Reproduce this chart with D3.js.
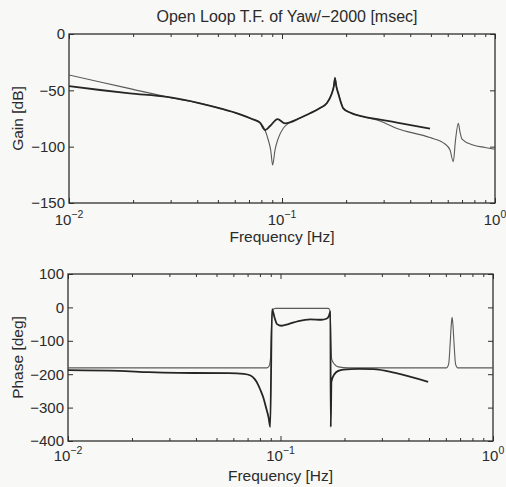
<!DOCTYPE html>
<html>
<head>
<meta charset="utf-8">
<script src="https://cdn.jsdelivr.net/npm/d3@7"></script>
<style>
  html, body { margin: 0; padding: 0; background: #f8f8f6; }
  svg { display: block; }
  text { font-family: "Liberation Sans", Arial, Helvetica, sans-serif; fill: #2b2b2b; }
</style>
</head>
<body>
<svg id="chart" width="506" height="487"></svg>
<script>
// Open-loop transfer function of yaw: model (thin) and measured (thick) curves
const freqTicks = [0.01, 0.1, 1];
const gainTicks = [0, -50, -100, -150];
const phaseTicks = [100, 0, -100, -200, -300, -400];

const modelGainHz = [0.0100, 0.0140, 0.0193, 0.0289, 0.0412, 0.0512, 0.0635, 0.0723, 0.0788, 0.0832,
  0.0862, 0.0885, 0.0904, 0.0927, 0.0960, 0.1014, 0.1071, 0.1215, 0.1354, 0.1508, 0.1622, 0.1712,
  0.1751, 0.1773, 0.1799, 0.1842, 0.1940, 0.2085, 0.2408, 0.2884, 0.3466, 0.4953, 0.5826, 0.6150,
  0.6370, 0.6526, 0.6725, 0.6850, 0.6999, 0.7884, 0.8978, 1.0000];
const modelGainDb = [-36.4, -42.6, -48.5, -55.9, -61.5, -66.0, -71.3, -75.4, -78.7, -85.2,
  -94.1, -103.0, -116.3, -103.0, -92.6, -83.7, -79.3, -74.6, -70.4, -65.7, -61.5, -52.7,
  -46.0, -38.5, -46.0, -53.0, -66.0, -69.7, -73.4, -77.2, -83.9, -91.9, -97.6, -103.0,
  -113.3, -94.0, -79.3, -87.0, -93.2, -98.5, -100.7, -102.3];

const measGainHz = [0.0100, 0.0140, 0.0193, 0.0289, 0.0412, 0.0512, 0.0635, 0.0723, 0.0788, 0.0832,
  0.0879, 0.0953, 0.1033, 0.1091, 0.1215, 0.1354, 0.1508, 0.1622, 0.1712, 0.1751, 0.1773, 0.1799,
  0.1842, 0.1940, 0.2085, 0.2408, 0.2884, 0.3466, 0.4953];
const measGainDb = [-46.2, -49.7, -52.7, -55.9, -61.5, -66.0, -71.3, -75.4, -78.7, -85.2,
  -81.7, -75.5, -79.3, -78.5, -74.6, -70.4, -65.7, -61.5, -53.0, -46.5, -39.5, -46.5,
  -53.5, -66.0, -69.7, -73.4, -75.9, -78.6, -83.9];

const modelPhaseHz = [0.0100, 0.0862, 0.0883, 0.0898, 0.0907, 0.0917, 0.0947, 0.1680, 0.1713, 0.1726,
  0.1741, 0.1793, 0.1872, 0.2085, 0.6049, 0.6184, 0.6284, 0.6366, 0.6420, 0.6475, 0.6559, 0.6666,
  0.6814, 1.0000];
const modelPhaseDeg = [-181, -181, -176, -150, -60, -8, -3, -3, -12, -100,
  -155, -170, -178, -181, -181, -170, -110, -50, -30, -50, -110, -170,
  -181, -181];

const measPhaseHz = [0.0100, 0.01736, 0.02401, 0.0332, 0.05701, 0.06706, 0.0723, 0.07546, 0.07798,
  0.08054, 0.08321, 0.08548, 0.0879, 0.08946, 0.09123, 0.09371, 0.0963, 0.1011, 0.1091, 0.1215,
  0.1383, 0.1558, 0.1644, 0.1689, 0.1717, 0.1724, 0.1736, 0.1793, 0.1872, 0.1976, 0.2324, 0.2732,
  0.3466, 0.4953];
const measPhaseDeg = [-188, -190, -194, -196, -197, -199, -204, -214, -228,
  -248, -272, -300, -330, -358, -5, -30, -50, -55, -50, -41,
  -36, -37, -34, -26, -12, -358, -222, -200, -190, -186, -184, -185,
  -196, -223];

const svg = d3.select("#chart");
const minorTicks = [];
for (const dec of [0.01, 0.1]) for (let m = 2; m <= 9; m++) minorTicks.push(+(dec * m).toPrecision(3));

const ink = "#2e2e2e";

function panel(cfg) {
  const x = d3.scaleLog().domain([0.01, 1]).range([cfg.left, cfg.right]);
  const y = d3.scaleLinear().domain(cfg.yDomain).range([cfg.bottom, cfg.top]);
  const g = svg.append("g");

  const clipId = "clip" + cfg.name;
  g.append("clipPath").attr("id", clipId).append("rect")
    .attr("x", cfg.left).attr("y", cfg.top)
    .attr("width", cfg.right - cfg.left).attr("height", cfg.bottom - cfg.top);

  // inward-pointing major and minor ticks on all four sides
  const axes = [
    [d3.axisBottom(x).tickValues(freqTicks).tickSize(-5), `translate(0,${cfg.bottom})`],
    [d3.axisTop(x).tickValues(freqTicks).tickSize(-5), `translate(0,${cfg.top})`],
    [d3.axisBottom(x).tickValues(minorTicks).tickSize(-3), `translate(0,${cfg.bottom})`],
    [d3.axisTop(x).tickValues(minorTicks).tickSize(-3), `translate(0,${cfg.top})`],
    [d3.axisRight(y).tickValues(cfg.yTicks).tickSize(-5), `translate(${cfg.right},0)`]
  ];
  for (const [ax, tr] of axes) {
    const a = g.append("g").attr("transform", tr).call(ax.tickFormat(""));
    a.select(".domain").remove();
    a.selectAll("line").attr("stroke", ink).attr("stroke-width", 1);
  }
  const yl = g.append("g").attr("transform", `translate(${cfg.left},0)`)
    .call(d3.axisLeft(y).tickValues(cfg.yTicks).tickSize(-5).tickPadding(4)
      .tickFormat(d => d < 0 ? "\u2212" + Math.abs(d) : String(d)));
  yl.select(".domain").remove();
  yl.selectAll("line").attr("stroke", ink);
  yl.selectAll("text").attr("font-size", 15).attr("font-family", null).style("fill", "#2b2b2b");

  g.append("rect")
    .attr("x", cfg.left).attr("y", cfg.top)
    .attr("width", cfg.right - cfg.left).attr("height", cfg.bottom - cfg.top)
    .attr("fill", "none").attr("stroke", ink).attr("stroke-width", 1.3);

  // decade labels 10^n
  const lab = g.selectAll("text.dec").data(freqTicks).join("text")
    .attr("class", "dec")
    .attr("x", d => x(d)).attr("y", cfg.bottom + cfg.tickLabelGap)
    .attr("text-anchor", "middle").attr("font-size", 15);
  lab.append("tspan").text("10");
  lab.append("tspan").attr("dy", -7).attr("font-size", 10.5)
    .text(d => { const e = Math.round(Math.log10(d)); return e < 0 ? "\u2212" + (-e) : String(e); });

  g.append("text")
    .attr("x", (cfg.left + cfg.right) / 2).attr("y", cfg.bottom + cfg.xLabelGap)
    .attr("text-anchor", "middle").attr("font-size", 15.5)
    .text("Frequency [Hz]");

  g.append("text")
    .attr("transform", `translate(23,${(cfg.top + cfg.bottom) / 2}) rotate(-90)`)
    .attr("text-anchor", "middle").attr("font-size", 15.5)
    .text(cfg.yLabel);

  const line = d3.line().x(d => x(d[0])).y(d => y(d[1])).curve(d3.curveMonotoneX);
  const plot = g.append("g").attr("clip-path", `url(#${clipId})`);
  plot.append("path").datum(d3.zip(cfg.modelHz, cfg.modelVal))
    .attr("d", line).attr("fill", "none").attr("stroke", "#5a5a5a").attr("stroke-width", 1.1);
  plot.append("path").datum(d3.zip(cfg.measHz, cfg.measVal))
    .attr("d", line).attr("fill", "none").attr("stroke", "#262626").attr("stroke-width", 1.8);
  return g;
}

panel({
  name: "Gain", left: 69, right: 495, top: 34, bottom: 203,
  yDomain: [-150, 0], yTicks: gainTicks, yLabel: "Gain [dB]",
  tickLabelGap: 22, xLabelGap: 39,
  modelHz: modelGainHz, modelVal: modelGainDb, measHz: measGainHz, measVal: measGainDb
});

panel({
  name: "Phase", left: 68, right: 493, top: 274, bottom: 441,
  yDomain: [-400, 100], yTicks: phaseTicks, yLabel: "Phase [deg]",
  tickLabelGap: 20, xLabelGap: 40,
  modelHz: modelPhaseHz, modelVal: modelPhaseDeg, measHz: measPhaseHz, measVal: measPhaseDeg
});

svg.append("text")
  .attr("x", 287).attr("y", 22)
  .attr("text-anchor", "middle").attr("font-size", 16)
  .text("Open Loop T.F. of Yaw/\u22122000 [msec]");
</script>
</body>
</html>
